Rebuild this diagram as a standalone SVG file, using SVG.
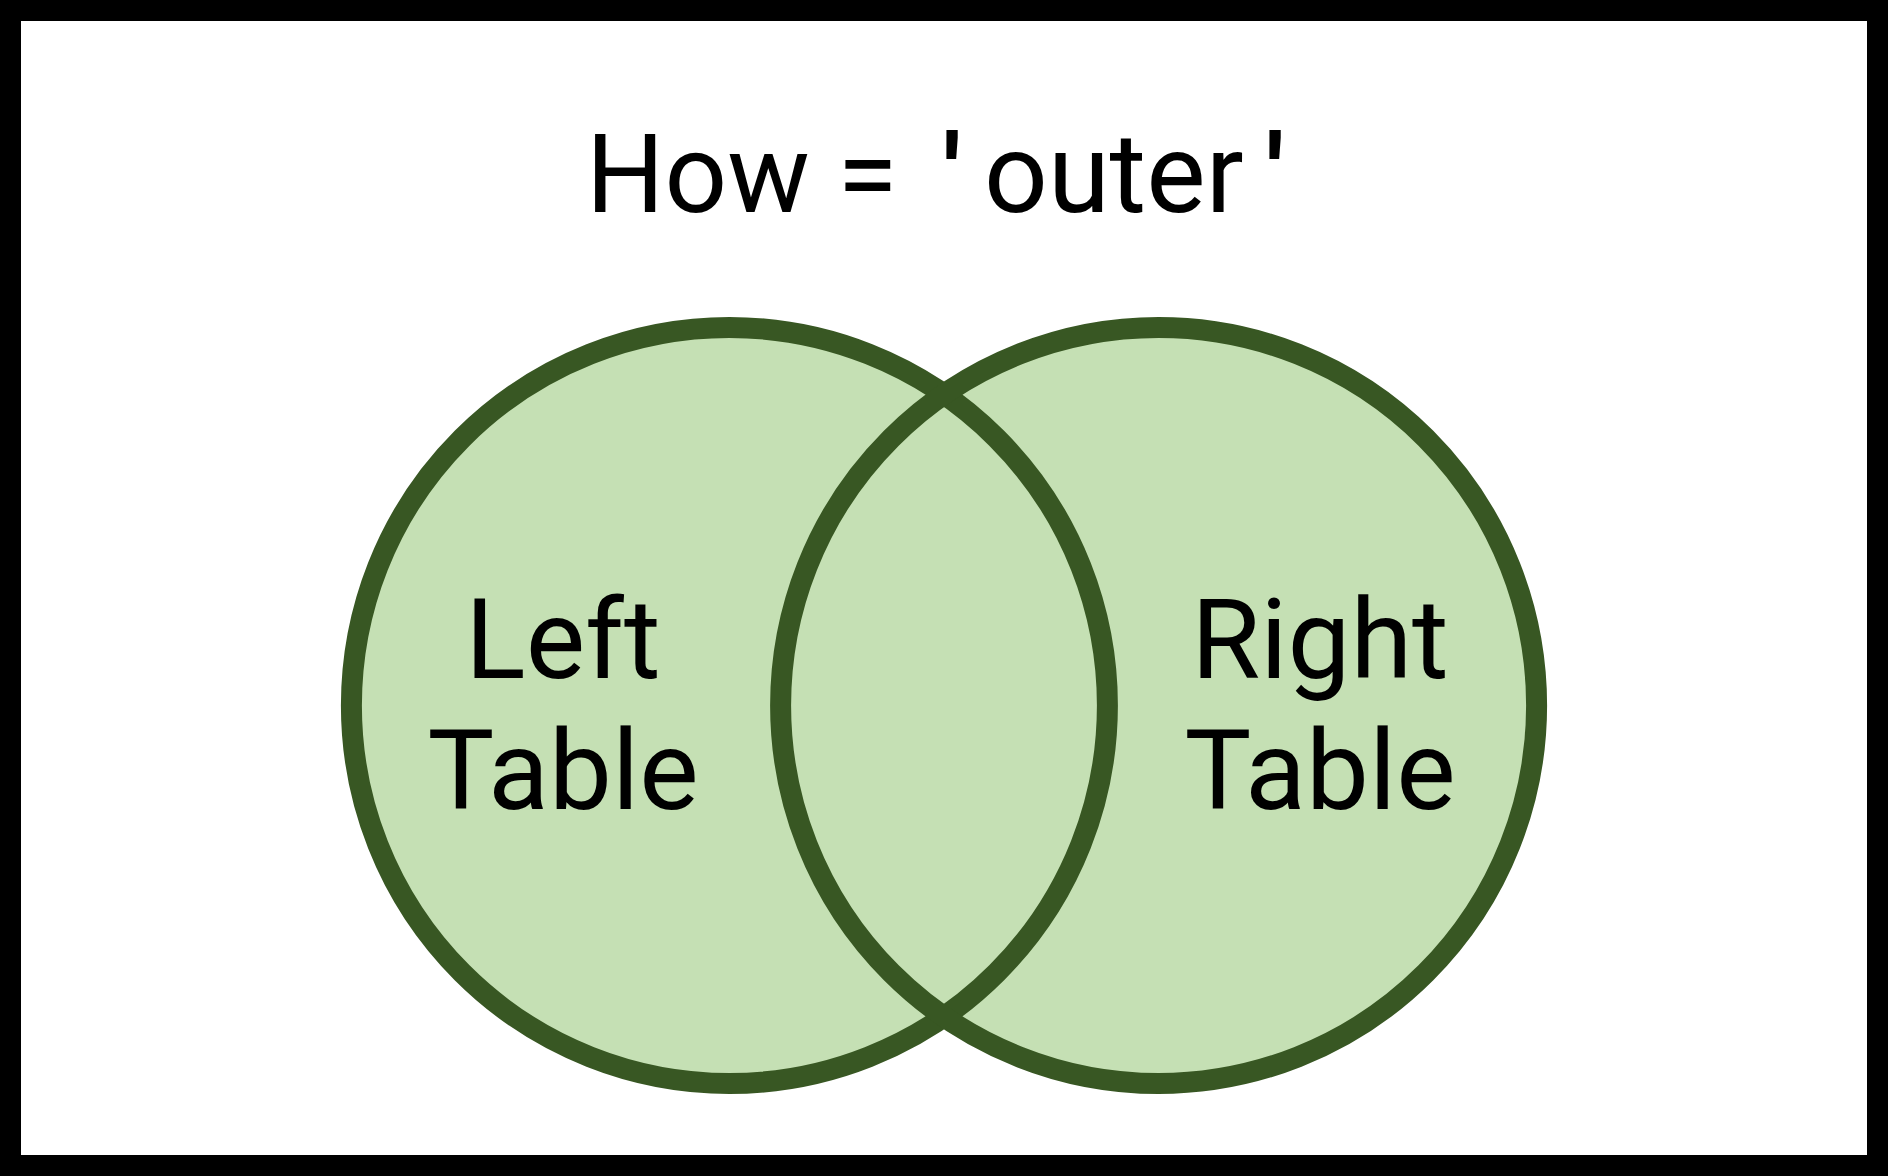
<svg xmlns="http://www.w3.org/2000/svg" width="1888" height="1176" viewBox="0 0 1888 1176">
<style>
.fill{fill:#C5E0B4;stroke:none}
.ring{fill:none;stroke:#385723;stroke-width:21}
.t{font-family:Roboto,"Liberation Sans",sans-serif;font-size:112px;fill:#000}
.lbl{text-anchor:middle}
</style>
<rect x="10.5" y="10.5" width="1867" height="1155" fill="#fff" stroke="#000" stroke-width="21"/>
<g id="title">
<text class="t" x="586" y="212" style="font-size:110px">How =<tspan x="943" style="font-weight:bold">'</tspan><tspan x="984" style="font-size:112px">outer</tspan><tspan x="1266" style="font-weight:bold">'</tspan></text>
</g>
<g id="fills">
<circle class="fill" cx="729.4" cy="705.5" r="378"/>
<circle class="fill" cx="1158.6" cy="705.5" r="378"/>
</g>
<g id="left-table">
<circle class="ring" cx="729.4" cy="705.5" r="378"/>
<text class="t lbl" x="563" y="678">Left</text>
<text class="t lbl" x="563" y="809">Table</text>
</g>
<g id="right-table">
<circle class="ring" cx="1158.6" cy="705.5" r="378"/>
<text class="t lbl" x="1320" y="678">Right</text>
<text class="t lbl" x="1320" y="809">Table</text>
</g>
<g id="connectors"></g>
</svg>
